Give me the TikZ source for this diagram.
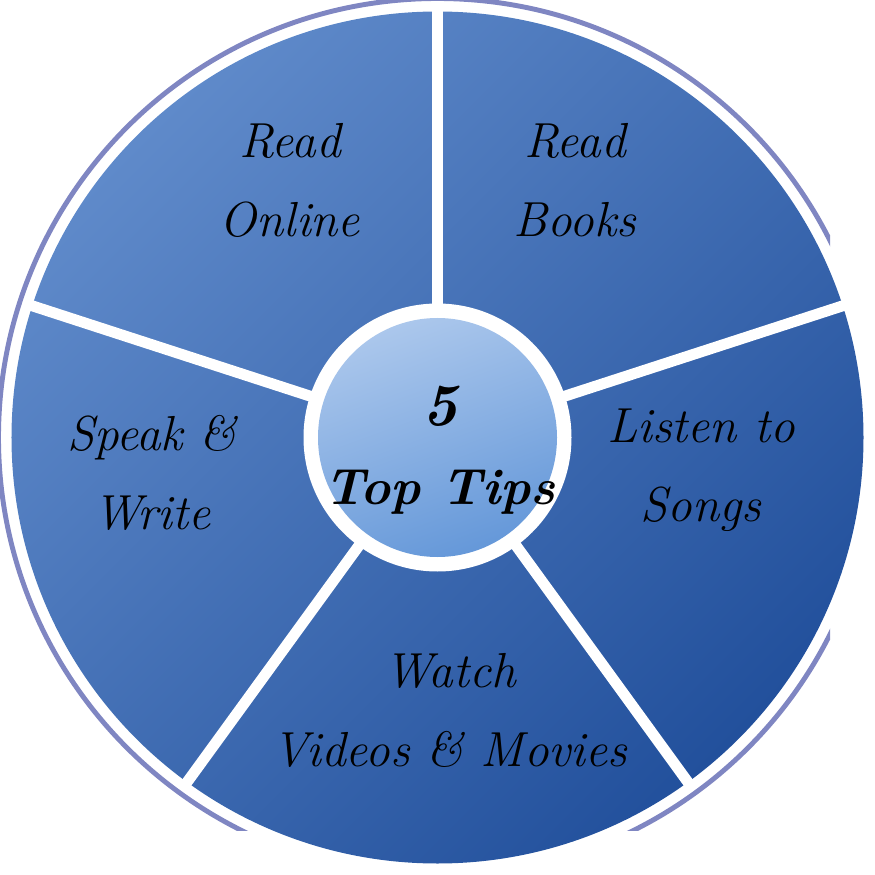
\documentclass[tikz,border=0pt]{standalone}
\usetikzlibrary{positioning}
\definecolor{FigureBlueLight}{HTML}{5F8ACA}
\definecolor{FigureBlueDark}{HTML}{22509C}
\definecolor{FigureHubLight}{HTML}{ABC7EC}
\definecolor{FigureHubDark}{HTML}{6598D9}
\definecolor{FigureRing}{HTML}{7F86C2}
\begin{document}
\begin{tikzpicture}[line cap=round,line join=round,
  tip/.style={align=center,font=\fontsize{14}{22.5}\selectfont\itshape},
  hub/.style={align=center,font=\fontsize{14.5}{22.5}\selectfont\bfseries\itshape}]
  \useasboundingbox (-4.375,-4.375) rectangle (4.375,4.375);
  \coordinate (O) at (0,0);
  \begin{scope}
    \clip (-4.375,-3.925) rectangle (3.925,4.375);
    \draw[FigureRing,line width=1.4pt] (O) circle (4.39);
  \end{scope}
  \shade[top color=FigureBlueLight,bottom color=FigureBlueDark,shading angle=45] (O) circle (4.26);
  \foreach \a/\n in {90/A,18/B,-54/C,-126/D,162/E}{
    \coordinate (spoke\n) at (\a:4.3);
    \draw[white,line width=3.1pt,line cap=butt] (O)--(spoke\n);}
  \fill[white] (O) circle (1.34);
  \shade[top color=FigureHubLight,bottom color=FigureHubDark,shading angle=20] (O) circle (1.195);
  \node[hub] (hub) at (0.025,-0.125) {{\fontsize{17}{22.5}\selectfont 5}\\Top Tips};
  \node[tip] (online) at (-1.475,2.575) {Read\\Online};
  \node[tip] (books) at (1.375,2.575) {Read\\Books};
  \node[tip] (songs) at (2.635,-0.325) {Listen to\\Songs};
  \node[tip] (videos) at (0.125,-2.725) {Watch\\Videos \& Movies};
  \node[tip] (write) at (-2.855,-0.355) {Speak \&\\Write};
\end{tikzpicture}
\end{document}
